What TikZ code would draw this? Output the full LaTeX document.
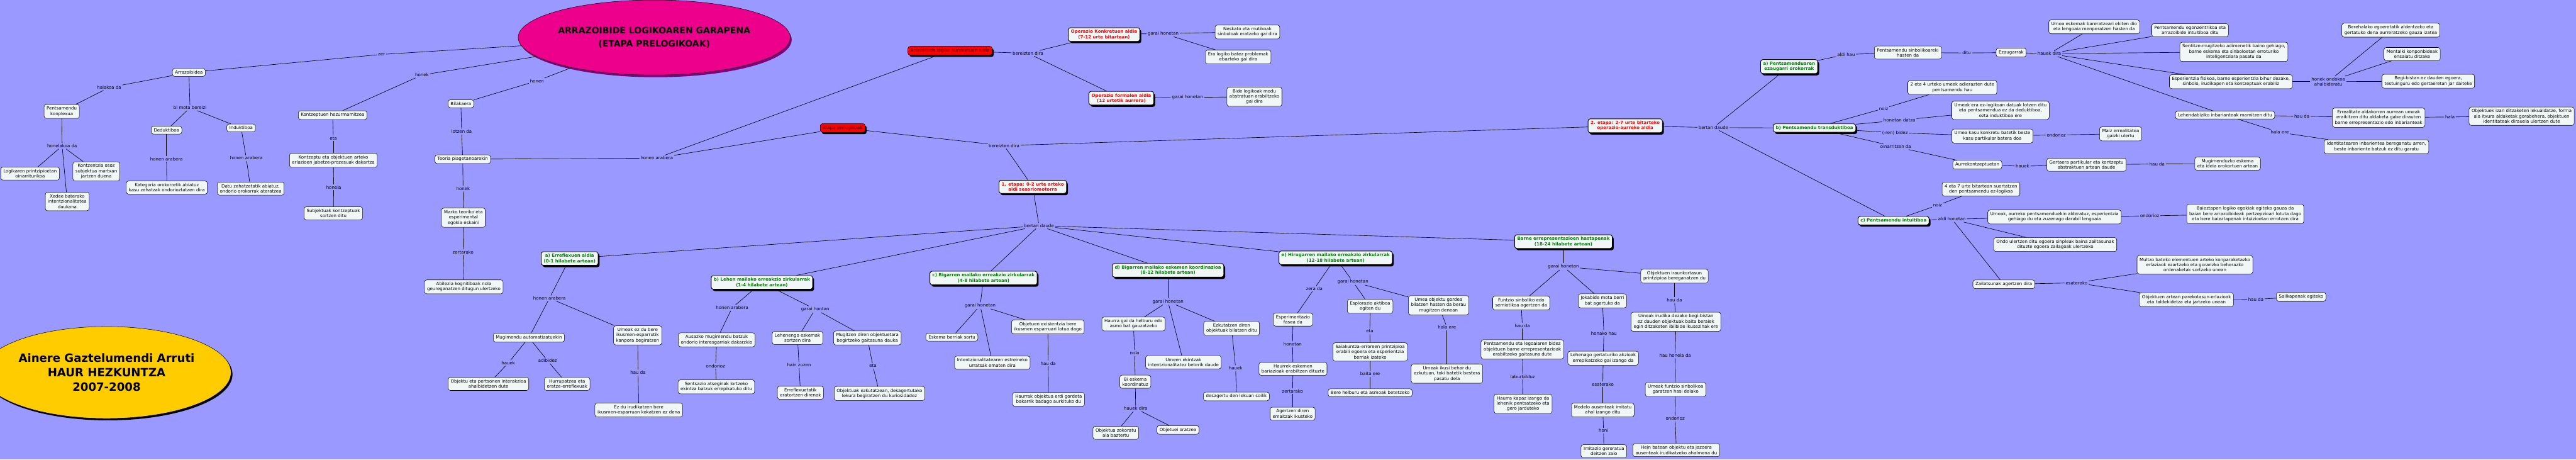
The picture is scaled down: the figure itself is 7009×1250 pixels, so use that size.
\documentclass[tikz,border=0pt]{standalone}
\usepackage{fontspec}
\setmainfont{DejaVu Sans}
\usetikzlibrary{shapes.geometric,shadows}
\definecolor{sky}{RGB}{153,153,255}
\definecolor{paper}{RGB}{241,247,247}
\definecolor{leaf}{RGB}{0,128,0}
\definecolor{blood}{RGB}{255,0,0}
\definecolor{gold}{RGB}{255,204,0}
\definecolor{plum}{RGB}{128,0,128}
\newcommand{\mapfont}{\fontsize{12}{14.3}\selectfont}
\tikzset{
  link/.style={draw=black,line width=1.1pt},
  box/.style={draw=black,fill=paper,rounded corners=6pt,line width=0.9pt,
    inner xsep=7pt,inner ysep=6pt,align=center,font=\mapfont},
  stage/.style={box,line width=1.6pt,text=#1,font=\mapfont\bfseries,
    drop shadow={shadow xshift=4pt,shadow yshift=-5pt,fill=black,opacity=1}},
  stage/.default=leaf,
  period/.style={box,fill=blood,text=black!75!red,
    drop shadow={shadow xshift=4pt,shadow yshift=-5pt,fill=black,opacity=1}},
  tag/.style={inner sep=3pt,align=center,font=\mapfont},
  bubble/.style={ellipse,draw=black,line width=0.9pt,fill=#1,align=center,inner sep=0pt},
}
\begin{document}
\begin{tikzpicture}[x=1pt,y=-1pt]
\useasboundingbox (0,0) rectangle (7009,1250);
\fill[sky] (0,0) rectangle (7009,1250);

% title and author
\node[bubble=magenta,minimum width=576pt,minimum height=204pt,
  font=\fontsize{24}{37}\selectfont\bfseries,
  drop shadow={shadow xshift=4pt,shadow yshift=-6pt,fill=plum,opacity=1}]
  (t) at (1780,102) {ARRAZOIBIDE LOGIKOAREN GARAPENA\\(ETAPA PRELOGIKOAK)};
\node[bubble=gold,minimum width=558pt,minimum height=250pt,
  font=\fontsize{31}{39}\selectfont\bfseries,
  drop shadow={shadow xshift=4pt,shadow yshift=-5pt,fill=black,opacity=1}]
  (au) at (290,1013) {Ainere Gaztelumendi Arruti\\HAUR HEZKUNTZA\\2007-2008};

% reasoning and concepts
\node[box] (arr) at (514,197) {Arrazoibidea};
\node[box] (pkon) at (168,303) {Pentsamendu\\konplexua};
\node[box] (ded) at (453,354) {Deduktiboa};
\node[box] (ind) at (656,348) {Induktiboa};
\node[box] (logi) at (82,472) {Logikaren printzipioetan\\oinarriturikoa};
\node[box] (kontz) at (262,466) {Kontzentzia osoz\\subjektua martxan\\jartzen duena};
\node[box] (xede) at (183,548) {Xedee baterako\\intentzionalitatea\\daukana};
\node[box] (kat) at (454,510) {Kategoria orokorretik abiatuz\\kasu zehatzak ondorioztatzen dira};
\node[box] (datu) at (682,513) {Datu zehatzetatik abiatuz,\\ondorio orokorrak ateratzea};
\node[box] (hez) at (905,313) {Kontzeptuen hezurmamitzea};
\node[box] (jab) at (907,436) {Kontzeptu eta objektuen arteko\\erlazioen jabetze-prozesuak dakartza};
\node[box] (subj) at (907,580) {Subjektuak kontzeptuak\\sortzen ditu};
\node[box] (bil) at (1254,282) {Bilakaera};
\node[box] (teo) at (1259,433) {Teoria piagetanoarekin};
\node[box] (mark) at (1261,592) {Marko teoriko eta\\esperimental\\egokia eskaini};
\node[box] (abil) at (1262,780) {Abilezia kognitiboak nola\\geureganatzen ditugun ulertzeko};

\node[tag] (lzer) at (1038,148) {zer};
\node[tag] (lhonek) at (1148,204) {honek};
\node[tag] (lhonen) at (1461,220) {honen};
\node[tag] (lhala) at (297,238) {halakoa da};
\node[tag] (lbimota) at (517,293) {bi mota bereizi};
\node[tag] (lhonelakoa) at (169,397) {honelakoa da};
\node[tag] (lded) at (453,432) {honen arabera};
\node[tag] (lind) at (670,430) {honen arabera};
\node[tag] (leta1) at (907,376) {eta};
\node[tag] (lhonela) at (908,509) {honela};
\node[tag] (llotzen) at (1256,358) {lotzen da};
\node[tag] (lhonek2) at (1260,513) {honek};
\node[tag] (lzert1) at (1260,686) {zertarako};
\node[tag] (lteo) at (1787,430) {honen arabera};

% later periods
\node[period] (ala) at (2585,138) {Arrazoibide logiko aurreratuen aldia};
\node[period] (pre) at (2293,348) {Etapa prelogikoak};
\node[stage=blood] (opk) at (3004,94) {Operazio Konkretuen aldia\\(7-12 urte bitartean)};
\node[stage=blood] (opf) at (3051,267) {Operazio formalen aldia\\(12 urtetik aurrera)};
\node[box] (nesk) at (3394,87) {Neskato eta mutikoak\\sinboloak eratzeko gai dira};
\node[box] (eral) at (3369,155) {Era logiko batez problemak\\ebazteko gai dira};
\node[box] (bide) at (3413,263) {Bide logikoak modu\\abstratuan erabiltzeko\\gai dira};
\node[tag] (lber1) at (2797,145) {bereizten dira};
\node[tag] (lgar1) at (3165,91) {garai honetan};
\node[tag] (lgar2) at (3231,265) {garai honetan};
\node[tag] (lber2) at (2732,396) {bereizten dira};

\node[stage=blood] (et1) at (2810,508) {1. etapa: 0-2 urte arteko\\aldi sesoriomotorra};
\node[stage=blood] (et2) at (4422,342) {2. etapa: 2-7 urte bitarteko\\operazio-aurreko aldia};
\node[tag] (lbert1) at (2827,614) {bertan daude};
\node[tag] (lbert2) at (4662,347) {bertan daude};

% 1. etapa
\node[stage] (sa) at (1550,703) {a) Erreflexuen aldia\\(0-1 hilabete artean)};
\node[stage] (sb) at (2073,768) {b) Lehen mailako erreakzio zirkularrak\\(1-4 hilabete artean)};
\node[stage] (sc) at (2676,756) {c) Bigarren mailako erreakzio zirkularrak\\(4-8 hilabete artean)};
\node[stage] (sd) at (3178,735) {d) Bigarren mailako eskemen koordinazioa\\(8-12 hilabete artean)};
\node[stage] (se) at (3634,701) {e) Hirugarren mailako erreakzio zirkularrak\\(12-18 hilabete artean)};
\node[stage] (sf) at (4254,657) {Barne errepresentazioen hastapenak\\(18-24 hilabete artean)};

\node[box] (mug) at (1439,918) {Mugimendu automatizatuekin};
\node[box] (obj) at (1329,1044) {Objektu eta pertsonen interakzioa\\ahalbidetzen dute};
\node[box] (hur) at (1543,1044) {Hurrupatzea eta\\oratze-erreflexuak};
\node[box] (ikus) at (1735,912) {Umeak ez du bere\\ikusmen-esparrutik\\kanpora begiratzen};
\node[box] (irud) at (1738,1115) {Ez du irudikatzen bere\\ikusmen-esparruan kokatzen ez dena};
\node[tag] (la1) at (1495,811) {honen arabera};
\node[tag] (lhauek1) at (1383,987) {hauek};
\node[tag] (ladib) at (1490,981) {adibidez};
\node[tag] (lhauda1) at (1736,1013) {hau da};

\node[box] (aus) at (1950,924) {Ausazko mugimendu batzuk\\ondorio interesgarriak dakarzkio};
\node[box] (sents) at (1949,1052) {Sentsazio atseginak lortzeko\\ekintza batzuk errepikatuko ditu};
\node[box] (leh) at (2170,919) {Lehenengo eskemak\\sortzen dira};
\node[box] (errf) at (2178,1068) {Erreflexuetatik\\eratortzen direnak};
\node[box] (mugi) at (2360,919) {Mugitzen diren objektuetara\\begirtzeko gaitasuna dauka};
\node[box] (ezk) at (2393,1070) {Objektuak ezkutatzean, desagertutako\\lekura begiratzen du kuriosidadez};
\node[tag] (lb1) at (1992,837) {honen arabera};
\node[tag] (lond1) at (1947,995) {ondorioz};
\node[tag] (lgh) at (2218,841) {garai hontan};
\node[tag] (lhain) at (2174,993) {hain zuzen};
\node[tag] (leta2) at (2375,995) {eta};

\node[box] (esk) at (2590,917) {Eskema berriak sortu};
\node[box] (intz) at (2700,986) {Intentzionalitatearen estreineko\\urratsak ematen dira};
\node[box] (exis) at (2851,889) {Objetuen existentzia bere\\ikusmen esparruari lotua dago};
\node[box] (erdi) at (2853,1086) {Haurrak objektua erdi gordeta\\bakarrik badago aurkituko du};
\node[tag] (lc1) at (2667,831) {garai honetan};
\node[tag] (lhauda2) at (2852,988) {hau da};

\node[box] (helb) at (3084,881) {Haurra gai da helburu edo\\asmo bat gauzatzeko};
\node[box] (biesk) at (3089,1038) {Bi eskema\\koordinatuz};
\node[box] (zok) at (3036,1177) {Objektua zokoratu\\ala baztertu};
\node[box] (orat) at (3205,1169) {Objetuei oratzea};
\node[box] (umeen) at (3220,985) {Umeen ekintzak\\intentzionalitatez beterik daude};
\node[box] (ezkd) at (3351,893) {Ezkutatzen diren\\objektuak bilatzen ditu};
\node[box] (desa) at (3364,1078) {desagertu den lekuan soilik};
\node[tag] (ld1) at (3178,820) {garai honetan};
\node[tag] (lnola) at (3087,960) {nola};
\node[tag] (lhdira) at (3090,1111) {hauek dira};
\node[tag] (lhauek2) at (3362,1001) {hauek};

\node[box] (espm) at (3518,869) {Esperimentazio\\fasea da};
\node[box] (bari) at (3518,1003) {Haurrek eskemen\\bariazioak erabiltzen dituzte};
\node[box] (emai) at (3517,1125) {Agertzen diren\\emaitzak ikusteko};
\node[box] (espl) at (3728,833) {Esplorazio aktiboa\\egiten du};
\node[box] (saia) at (3728,957) {Saiakuntza-erroreen printzipioa\\erabili egoera eta esperientzia\\berriak izateko};
\node[box] (helbu) at (3728,1068) {Bere helburu eta asmoak betetzeko};
\node[box] (gord) at (3914,830) {Umea objektu gordea\\bilatzen hasten da berau\\mugitzen denean};
\node[box] (pasa) at (3937,1016) {Umeak ikusi behar du\\ezkutuan, toki batetik bestera\\pasatu dela};
\node[tag] (lzera) at (3576,785) {zera da};
\node[tag] (lhonetan) at (3517,936) {honetan};
\node[tag] (lzert2) at (3517,1064) {zertarako};
\node[tag] (le1) at (3681,766) {garai honetan};
\node[tag] (leta3) at (3727,901) {eta};
\node[tag] (lbaita) at (3728,1017) {baita ere};
\node[tag] (lhalaere1) at (3937,890) {hala ere};

\node[box] (fun) at (4139,824) {Funtzio sinboliko edo\\semiotikoa agertzen da};
\node[box] (leng) at (4142,950) {Pentsamendu eta legoaiaren bidez\\objektuen barne errepresentazioak\\erabiltzeko gaitasuna dute};
\node[box] (kap) at (4144,1098) {Haurra kapaz izango da\\lehenik pentsatzeko eta\\gero jarduteko};
\node[box] (jok) at (4360,818) {Jokabide mota berri\\bat agertuko da};
\node[box] (lehen) at (4362,974) {Lehenago gertaturiko akzioak\\errepikatzeko gai izango da};
\node[box] (mod) at (4361,1115) {Modelo ausenteak imitatu\\ahal izango ditu};
\node[box] (imit) at (4364,1227) {Imitazio geroratua\\deitzen zaio};
\node[box] (irau) at (4556,751) {Objektuen iraunkortasun\\printzipioa bereganatzen du};
\node[box] (irud2) at (4560,875) {Umeak irudika dezake begi-bistan\\ez dauden objektuak baita beraiek\\egin ditzaketen ibilbide ikusezinak ere};
\node[box] (sinb) at (4559,1059) {Umeak funtzio sinbolikoa\\garatzen hasi delako};
\node[box] (hein) at (4561,1224) {Hein batean objektu eta jazoera\\ausenteak irudikatzeko ahalmena du};
\node[tag] (lf1) at (4254,725) {garai honetan};
\node[tag] (lhauda3) at (4142,886) {hau da};
\node[tag] (llabur) at (4143,1024) {laburbilduz};
\node[tag] (lhonako) at (4364,906) {honako hau};
\node[tag] (lesat1) at (4361,1045) {esaterako};
\node[tag] (lhoni) at (4363,1171) {honi};
\node[tag] (lhauda4) at (4556,816) {hau da};
\node[tag] (lhhonela) at (4558,967) {hau honela da};
\node[tag] (lond2) at (4558,1138) {ondorioz};

% 2. etapa
\node[stage] (pa) at (4868,181) {a) Pentsamenduaren\\ezaugarri orokorrak};
\node[stage] (pb) at (4937,348) {b) Pentsamendu transduktiboa};
\node[stage] (pc) at (5152,600) {c) Pentsamendu intuitiboa};

\node[box] (sinbh) at (5191,143) {Pentsamendu sinbolikoareki\\hasten da};
\node[box] (ezau) at (5472,143) {Ezaugarrak};
\node[box] (eskem) at (5698,73) {Umea eskemak bareratzeari ekiten dio\\eta lengoaia menperatzen hasten da};
\node[box] (egon) at (5959,82) {Pentsamendu egonzentrikoa eta\\arrazoibide intuitiboa ditu};
\node[box] (sent) at (6078,141) {Sentitze-mugitzeko adimenetik baino gehiago,\\barne eskema eta sinboloetan erroturiko\\inteligentziara pasatu da};
\node[box] (fisi) at (6070,222) {Esperientzia fisikoa, barne esperientzia bihur dezake,\\sinbolo, irudikapen eta kontzeptuak erabiliz};
\node[box] (bere) at (6505,82) {Berehalako egoeretatik aldentzeko eta\\gertatuko dena aurreratzeko gauza izatea};
\node[box] (ment) at (6563,147) {Mentalki konponbideak\\ensaiatu ditzake};
\node[box] (begi) at (6607,221) {Begi-bistan ez dauden egoera,\\testuinguru edo gertaeretan jar daiteke};
\node[box] (inba) at (6054,313) {Lehendabiziko inbarianteak mamitzen ditu};
\node[box] (alda) at (6472,320) {Errealitate aldakorren aurrean umeak\\eraikitzen ditu aldaketa gabe dirauten\\barne errepresentazio edo inbarianteak};
\node[box] (lekua) at (6861,316) {Objektuek izan ditzaketen lekualdatze, forma\\ala itxura aldaketak gorabehera, objektuen\\identitateak dirauela ulertzen dute};
\node[box] (iden) at (6466,399) {Identitatearen inbarientea bereganatu arren,\\beste inbariente batzuk ez ditu garatu};
\node[tag] (laldi) at (5023,148) {aldi hau};
\node[tag] (lditu) at (5351,144) {ditu};
\node[tag] (lhdira2) at (5576,146) {hauek dira};
\node[tag] (lhonekond) at (6335,222) {honek ondokoa\\ahalbideratu};
\node[tag] (lhauda5) at (6263,316) {hau da};
\node[tag] (lhala2) at (6666,318) {hala};
\node[tag] (lhalaere2) at (6203,360) {hala ere};

\node[box] (bi4) at (5312,238) {2 eta 4 urteko umeek adierazten dute\\pentsamendu hau};
\node[box] (elog) at (5443,300) {Umeak era ez-logikoan datuak lotzen ditu\\eta pentsamendua ez da deduktiboa,\\ezta induktiboa ere};
\node[box] (kasu) at (5421,370) {Umea kasu konkretu batetik beste\\kasu partikular batera doa};
\node[box] (maiz) at (5770,364) {Maiz errealitatea\\gaizki ulertu};
\node[box] (aurk) at (5380,448) {Aurrekontzeptuetan};
\node[box] (gert) at (5677,448) {Gertaera partikular eta kontzeptu\\abstraktuen artean daude};
\node[box] (mugesk) at (6061,445) {Mugimenduzko eskema\\eta ideia orokortuen artean};
\node[tag] (lnoiz1) at (5125,295) {noiz};
\node[tag] (ldatza) at (5168,327) {honetan datza};
\node[tag] (lbidez) at (5156,361) {(-ren) bidez};
\node[tag] (lond3) at (5595,367) {ondorioz};
\node[tag] (loinarri) at (5158,399) {oinarritzen da};
\node[tag] (lhauek3) at (5503,452) {hauek};
\node[tag] (lhauda6) at (5869,446) {hau da};

\node[box] (bi7) at (5390,514) {4 eta 7 urte bitartean suertatzen\\den pentsamendu ez-logikoa};
\node[box] (aurre) at (5590,590) {Umeak, aurreko pentsamenduekin alderatuz, esperientzia\\gehiago du eta zuzenago darabil lengoaia};
\node[box] (baiez) at (6109,582) {Baieztapen logiko egokiak egiteko gauza da\\baian bere arrazoibideak pertzepzioari lotuta dago\\eta bere baieztapenak intuizioetan errotzen dira};
\node[box] (ondo) at (5592,665) {Ondo ulertzen ditu egoera sinpleak baina zailtasunak\\dituzte egoera zailagoak ulertzeko};
\node[box] (zail) at (5452,773) {Zailatsunak agertzen dira};
\node[box] (multz) at (5972,720) {Multzo bateko elementuen arteko konparaketazko\\erlaziaok ezartzeko eta goranzko beherazko\\ordenaketak sortzeko unean};
\node[box] (pare) at (5949,815) {Objektuen artean parekotasun-erlazioak\\eta taldekidetza eta jartzeko unean};
\node[box] (sail) at (6261,807) {Sailkapenak egiteko};
\node[tag] (lnoiz2) at (5272,558) {noiz};
\node[tag] (laldih) at (5311,596) {aldi honetan};
\node[tag] (lond4) at (5849,587) {ondorioz};
\node[tag] (lesat2) at (5650,769) {esaterako};
\node[tag] (lhauda7) at (6138,814) {hau da};

% links
\foreach \a/\b in {arr/lzer,lzer/t,hez/lhonek,lhonek/t,bil/lhonen,lhonen/t.200,
  arr/lhala,lhala/pkon,arr/lbimota,lbimota/ded,lbimota/ind,
  pkon/lhonelakoa,lhonelakoa/logi,lhonelakoa/kontz,lhonelakoa/xede,
  ded/lded,lded/kat,ind/lind,lind/datu,hez/leta1,leta1/jab,jab/lhonela,lhonela/subj,
  bil/llotzen,llotzen/teo,teo/lhonek2,lhonek2/mark,mark/lzert1,lzert1/abil,
  teo/lteo,lteo/ala,lteo/pre}
  \draw[link] (\a) -- (\b);
\foreach \a/\b in {ala/lber1,lber1/opk,lber1/opf,opk/lgar1,lgar1/nesk,lgar1/eral,
  opf/lgar2,lgar2/bide,pre/lber2,lber2/et1,lber2/et2,
  et1/lbert1,lbert1/sa,lbert1/sb,lbert1/sc,lbert1/sd,lbert1/se,lbert1/sf}
  \draw[link] (\a) -- (\b);
\foreach \a/\b in {sa/la1,la1/mug,la1/ikus,mug/lhauek1,lhauek1/obj,mug/ladib,ladib/hur,
  ikus/lhauda1,lhauda1/irud,
  sb/lb1,lb1/aus,aus/lond1,lond1/sents,sb/lgh,lgh/leh,lgh/mugi,leh/lhain,lhain/errf,
  mugi/leta2,leta2/ezk,
  sc/lc1,lc1/esk,lc1/intz,lc1/exis,exis/lhauda2,lhauda2/erdi,
  sd/ld1,ld1/helb,ld1/umeen,ld1/ezkd,helb/lnola,lnola/biesk,biesk/lhdira,
  lhdira/zok,lhdira/orat,ezkd/lhauek2,lhauek2/desa}
  \draw[link] (\a) -- (\b);
\foreach \a/\b in {se/lzera,lzera/espm,espm/lhonetan,lhonetan/bari,bari/lzert2,lzert2/emai,
  se/le1,le1/espl,le1/gord,espl/leta3,leta3/saia,saia/lbaita,lbaita/helbu,
  gord/lhalaere1,lhalaere1/pasa,
  sf/lf1,lf1/fun,lf1/jok,lf1/irau,fun/lhauda3,lhauda3/leng,leng/llabur,llabur/kap,
  jok/lhonako,lhonako/lehen,lehen/lesat1,lesat1/mod,mod/lhoni,lhoni/imit,
  irau/lhauda4,lhauda4/irud2,irud2/lhhonela,lhhonela/sinb,sinb/lond2,lond2/hein}
  \draw[link] (\a) -- (\b);
\foreach \a/\b in {et2/lbert2,lbert2/pa,lbert2/pb,lbert2/pc,
  pa/laldi,laldi/sinbh,sinbh/lditu,lditu/ezau,ezau/lhdira2,
  lhdira2/eskem,lhdira2/egon,lhdira2/sent,lhdira2/fisi,lhdira2/inba,
  fisi/lhonekond,lhonekond/bere,lhonekond/ment,lhonekond/begi,
  inba/lhauda5,lhauda5/alda,alda/lhala2,lhala2/lekua,inba/lhalaere2,lhalaere2/iden,
  pb/lnoiz1,lnoiz1/bi4,pb/ldatza,ldatza/elog,pb/lbidez,lbidez/kasu,kasu/lond3,lond3/maiz,
  pb/loinarri,loinarri/aurk,aurk/lhauek3,lhauek3/gert,gert/lhauda6,lhauda6/mugesk,
  pc/lnoiz2,lnoiz2/bi7,pc/laldih,laldih/aurre,laldih/ondo,laldih/zail,
  aurre/lond4,lond4/baiez,zail/lesat2,lesat2/multz,lesat2/pare,pare/lhauda7,lhauda7/sail}
  \draw[link] (\a) -- (\b);
\end{tikzpicture}
\end{document}
